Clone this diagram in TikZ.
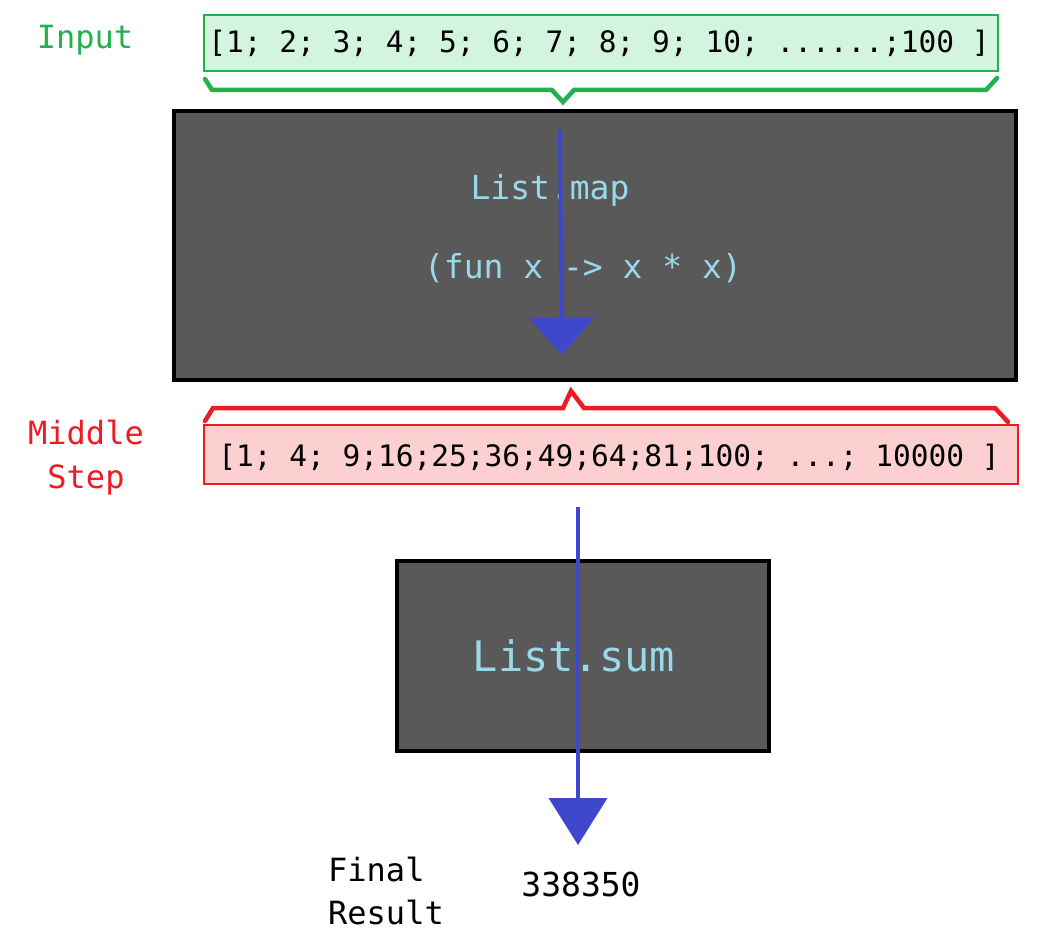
\documentclass[tikz,border=0pt]{standalone}
\usepackage{fontspec}
\setmonofont{DejaVu Sans Mono}
\usetikzlibrary{arrows.meta}
\definecolor{ingreen}{HTML}{22B14C}
\definecolor{inbox}{HTML}{D3F5DF}
\definecolor{midred}{HTML}{ED1C24}
\definecolor{midbox}{HTML}{FCCFD0}
\definecolor{darkbox}{HTML}{595959}
\definecolor{codecol}{HTML}{99D9EA}
\definecolor{arrowblue}{HTML}{3F48CC}
\tikzset{
  x=1pt, y=-1pt,
  lbl/.style={inner sep=0pt, font=\ttfamily\fontsize{32}{44}\selectfont, align=left},
  listtxt/.style={inner sep=0pt, font=\ttfamily\fontsize{29.5}{34}\selectfont},
  codetxt/.style={inner sep=0pt, text=codecol, font=\ttfamily\fontsize{33}{40}\selectfont},
  funcbox/.style={draw=black, line width=4pt, fill=darkbox},
  flow/.style={draw=arrowblue, line width=4pt, -{Triangle[width=64pt,length=37pt]}},
  bracepath/.style={line width=4.5pt, line join=miter, line cap=round},
}
\begin{document}
\begin{tikzpicture}
\useasboundingbox[fill=white] (0,0) rectangle (1046,952);
% input
\node[lbl, text=ingreen] (inlbl) at (85,40) {Input};
\draw[ingreen, fill=inbox, line width=1.2pt] (204,15) rectangle (998,71);
\node[listtxt] (inlist) at (599,43) {[1; 2; 3; 4; 5; 6; 7; 8; 9; 10; ......;100 ]};
\draw[ingreen, bracepath] (205,79) -- (212,90) -- (552,90) -- (563,102) -- (574,90) -- (986,90) -- (997,78);
% map box
\draw[funcbox] (174,111) rectangle (1016,380);
\node[codetxt] (map1) at (550,190) {List.map};
\node[codetxt] (map2) at (583,268) {(fun x -> x * x)};
\coordinate (a1s) at (560,130);
\coordinate (a1e) at (562,355);
\draw[flow] (a1s) -- (a1e);
% middle
\draw[midred, bracepath] (205,421) -- (213,408) -- (563,408) -- (571,391) -- (584,408) -- (995,408) -- (1008,422);
\node[lbl, text=midred, align=center] (midlbl) at (86,458) {Middle\\Step};
\draw[midred, fill=midbox, line width=1.2pt] (204,425) rectangle (1018,484);
\node[listtxt] (midlist) at (609,457) {[1; 4; 9;16;25;36;49;64;81;100; ...; 10000 ]};
% sum box
\draw[funcbox] (397,561) rectangle (769,751);
\node[inner sep=0pt, text=codecol, font=\ttfamily\fontsize{42}{50}\selectfont] (sum) at (574,656) {List.sum};
\coordinate (a2s) at (578,507);
\coordinate (a2e) at (578,845);
\draw[flow, -{Triangle[width=58pt,length=47pt]}] (a2s) -- (a2e);
% result
\node[lbl, text=black, font=\ttfamily\fontsize{32}{43}\selectfont] (reslbl) at (386,891) {Final\\Result};
\node[lbl, text=black, font=\ttfamily\fontsize{33}{40}\selectfont] (res) at (581,884) {338350};
\end{tikzpicture}
\end{document}
